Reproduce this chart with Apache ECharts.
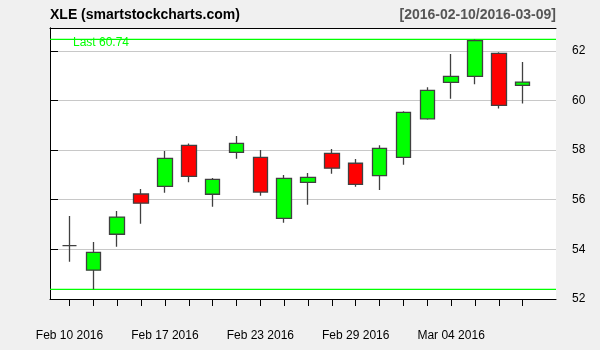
<!DOCTYPE html>
<html>
<head>
<meta charset="utf-8">
<script src="https://cdn.jsdelivr.net/npm/echarts@6/dist/echarts.min.js"></script>
<style>html,body{margin:0;padding:0;background:#f0f0f0;}#c{width:600px;height:350px;}</style>
</head>
<body>
<div id="c"></div>
<script>
const dates = ['2016-02-10','2016-02-11','2016-02-12','2016-02-16','2016-02-17','2016-02-18','2016-02-19',
  '2016-02-22','2016-02-23','2016-02-24','2016-02-25','2016-02-26','2016-02-29','2016-03-01','2016-03-02',
  '2016-03-03','2016-03-04','2016-03-07','2016-03-08','2016-03-09'];
const opens  = [54.15,53.16,54.61,56.23,56.54,58.19,56.22,57.91,57.71,55.25,56.70,57.87,57.47,56.97,57.71,59.26,60.73,60.97,61.90,60.61];
const closes = [54.15,53.88,55.30,55.86,57.67,56.94,56.82,58.27,56.31,56.86,56.90,57.27,56.62,58.07,59.52,60.41,60.97,62.41,59.80,60.74];
const lows   = [53.50,52.39,54.11,55.03,56.28,56.70,55.72,57.65,56.16,55.07,55.80,57.05,56.52,56.39,57.41,59.22,60.07,60.65,59.68,59.88];
const highs  = [55.34,54.30,55.55,56.43,57.96,58.27,56.88,58.57,58.00,57.00,57.08,58.04,57.64,58.20,59.57,60.53,61.87,62.46,61.94,61.55];
const yTicks = [52,54,56,58,60,62];
const titleText = 'XLE (smartstockcharts.com)';
const rangeText = '[2016-02-10/2016-03-09]';

const months = ['Jan','Feb','Mar','Apr','May','Jun','Jul','Aug','Sep','Oct','Nov','Dec'];
function fmtDate(s){ const p = s.split('-'); return months[+p[1]-1] + ' ' + p[2] + ' ' + p[0]; }

const candles = dates.map((d,i)=>[opens[i], closes[i], lows[i], highs[i]]);
const maxHigh = Math.max(...highs);
const minLow = Math.min(...lows);
const lastClose = closes[closes.length-1];

const font = 'Liberation Sans, Arial, sans-serif';
const yMin = 52, yMax = 62.92;
const frameAxis = {show: true, axisLine: {show: true, lineStyle: {color: '#000', width: 1}},
  axisTick: {show: false}, axisLabel: {show: false}, splitLine: {show: false}};

const chart = echarts.init(document.getElementById('c'), null, {renderer:'canvas'});
chart.setOption({
  backgroundColor: '#f0f0f0',
  animation: false,
  textStyle: {fontFamily: font},
  title: [
    {text: titleText, left: 50, top: 8, padding: 0, textStyle: {fontFamily: font, fontSize: 14, fontWeight: 'bold', color: '#000'}},
    {text: rangeText, right: 44, top: 8, padding: 0, textStyle: {fontFamily: font, fontSize: 14, fontWeight: 'bold', color: '#555'}},
    {text: 'Last ' + lastClose.toFixed(2), left: 73, top: 37, padding: 0, textStyle: {fontFamily: font, fontSize: 12, fontWeight: 'normal', color: '#00ff00'}}
  ],
  grid: [
    {left: 50, right: 44, top: 28, bottom: 51, show: true, backgroundColor: '#fff', borderWidth: 0, z: 0},
    {left: 57.6, right: 65.4, top: 28, bottom: 51}
  ],
  xAxis: [
    Object.assign({type: 'value', gridIndex: 0, min: 0, max: 1, position: 'bottom'}, frameAxis),
    {type: 'category', gridIndex: 1, data: dates, boundaryGap: true,
      axisLine: {show: false},
      axisTick: {show: true, interval: 0, alignWithLabel: true, length: 7, lineStyle: {color: '#000', width: 1}},
      axisLabel: {interval: 3, margin: 31, fontSize: 12, color: '#000', fontFamily: font, formatter: fmtDate},
      splitLine: {show: false}},
    Object.assign({type: 'value', gridIndex: 0, min: 0, max: 1, position: 'top'}, frameAxis)
  ],
  yAxis: [
    {type: 'value', gridIndex: 0, position: 'right', min: yMin, max: yMax,
      axisLine: {show: true, lineStyle: {color: '#000'}},
      axisTick: {show: true, length: 8, lineStyle: {color: '#000'}, customValues: yTicks},
      axisLabel: {margin: 16, fontSize: 12, color: '#000', fontFamily: font, customValues: yTicks,
        formatter: v => (Number.isInteger(v) ? String(v) : '')},
      splitLine: {show: true, lineStyle: {color: '#c8c8c8', width: 1}}},
    {type: 'value', gridIndex: 1, min: yMin, max: yMax, show: false},
    Object.assign({type: 'value', gridIndex: 0, min: yMin, max: yMax, position: 'left'}, frameAxis)
  ],
  series: [
    {type: 'line', xAxisIndex: 0, yAxisIndex: 0, data: [[0, maxHigh],[1, maxHigh]], symbol: 'none',
      lineStyle: {color: '#00ff00', width: 1.3}, silent: true, z: 1},
    {type: 'line', xAxisIndex: 0, yAxisIndex: 0, data: [[0, minLow],[1, minLow]], symbol: 'none',
      lineStyle: {color: '#00ff00', width: 1.3}, silent: true, z: 1},
    {type: 'candlestick', xAxisIndex: 1, yAxisIndex: 1, data: candles, barWidth: 15,
      itemStyle: {color: '#00ff00', color0: '#ff0000', borderColor: '#404040', borderColor0: '#404040', borderColorDoji: '#404040', borderWidth: 1.3},
      z: 3}
  ]
});
</script>
</body>
</html>
